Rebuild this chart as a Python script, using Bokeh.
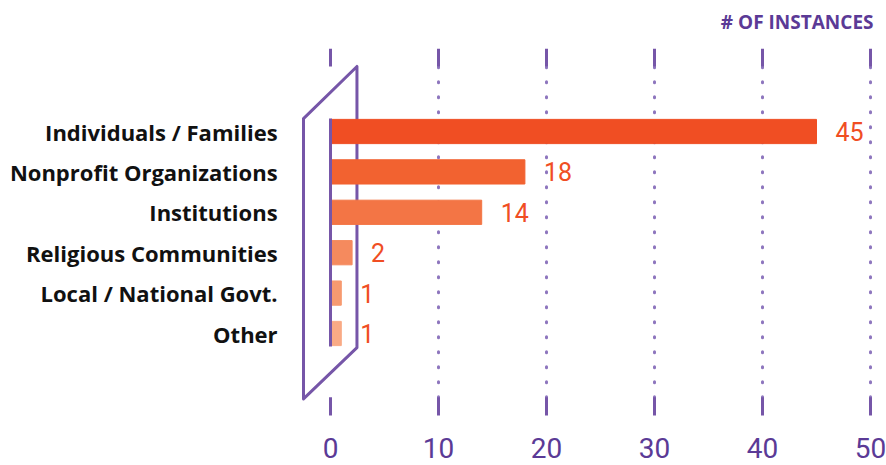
from bokeh.plotting import figure
from bokeh.models import ColumnDataSource, FixedTicker, Range1d, Label
from bokeh.core.properties import value
from bokeh.embed import file_html
from bokeh.resources import INLINE

categories = ["Individuals / Families", "Nonprofit Organizations", "Institutions",
              "Religious Communities", "Local / National Govt.", "Other"]
counts = [45, 18, 14, 2, 1, 1]
bar_colors = ["#F04E23", "#F26230", "#F37545", "#F58A5E", "#F79A70", "#F9AA85"]
ticks = [0, 10, 20, 30, 40, 50]
tick_labels = ["0", "10", "20", "30", "40", "50"]
axis_title = "# OF INSTANCES"

PURPLE = "#7656A8"
DARK_PURPLE = "#5B3A96"
ORANGE = "#F04E23"

W, H = 886, 465
AXIS_H = 45
px_per_unit = 10.8
x0_px = 330
xs = -x0_px / px_per_unit
xe = (W - x0_px) / px_per_unit
y_px = 40.4
row0 = 131
frame_bottom = H - AXIS_H
ys_top = -row0 / y_px
ys_bot = (frame_bottom - row0) / y_px

ypos = list(range(len(categories)))
src = ColumnDataSource(dict(y=ypos, cat=categories, v=counts, lbl=[str(c) for c in counts], color=bar_colors))

p = figure(width=W, height=H, output_backend="svg", toolbar_location=None,
           x_range=Range1d(xs, xe), y_range=Range1d(ys_bot, ys_top),
           y_axis_location=None, min_border_left=0, min_border_right=0,
           min_border_top=0, min_border_bottom=AXIS_H)
p.outline_line_color = None
p.xgrid.visible = False
p.ygrid.visible = False
p.background_fill_color = "white"
p.border_fill_color = "white"

# dotted gridlines and tick segments
grid_ticks = [t for t in ticks if t != 0]
p.segment(x0=grid_ticks, x1=grid_ticks, y0=[-1.6] * len(grid_ticks), y1=[6.58] * len(grid_ticks),
          line_color="#8E76BE", line_width=3, line_dash="1 14", line_cap="round")
p.segment(x0=ticks, x1=ticks, y0=[-2.05] * len(ticks), y1=[-1.61] * len(ticks),
          line_color=PURPLE, line_width=3)
p.segment(x0=ticks, x1=ticks, y0=[6.58] * len(ticks), y1=[7.03] * len(ticks),
          line_color=PURPLE, line_width=3)

# parallelogram
p.patch(x=[-2.5, 2.45, 2.45, -2.5], y=[-0.32, -1.61, 5.35, 6.62], fill_color=None,
        line_color=PURPLE, line_width=3, line_join="round")

# bars
p.hbar(y="y", left=0, right="v", height=0.6, color="color", source=src)
# zero line
p.segment(x0=[0], x1=[0], y0=[-0.32], y1=[5.32], line_color=PURPLE, line_width=3)

# category labels
p.text(x=-4.9, y="y", text="cat", source=src, text_align="right", text_baseline="middle",
       text_font=value("Open Sans"), text_font_style="bold", text_font_size="22px", text_color="#111111")
# value labels
p.text(x="v", y="y", text="lbl", source=src, x_offset=19, text_align="left", text_baseline="middle",
       text_font=value("Roboto"), text_font_size="25px", text_color=ORANGE)

p.add_layout(Label(x=50.28, y=-2.72, text=axis_title, text_align="right", text_baseline="middle",
                   text_font="Open Sans", text_font_style="bold", text_font_size="19px", text_color=DARK_PURPLE))

ax = p.xaxis[0]
ax.ticker = FixedTicker(ticks=ticks)
ax.major_label_overrides = {t: l for t, l in zip(ticks, tick_labels)}
ax.axis_line_color = None
ax.major_tick_line_color = None
ax.minor_tick_line_color = None
ax.major_label_text_font = "Roboto"
ax.major_label_text_font_size = "28px"
ax.major_label_text_color = DARK_PURPLE
ax.major_label_standoff = 11

open("out.html", "w").write(file_html(p, INLINE))
